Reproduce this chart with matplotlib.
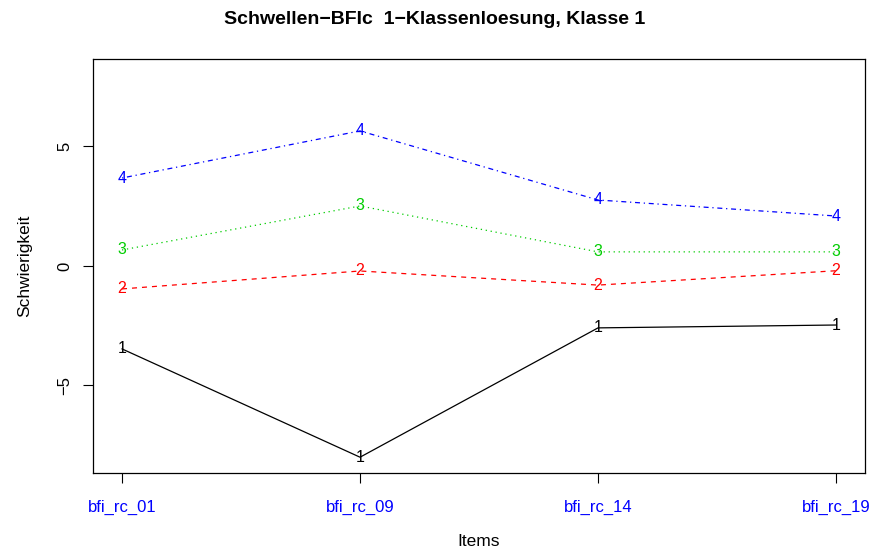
import matplotlib
matplotlib.use("Agg")
import matplotlib.pyplot as plt
import numpy as np

plt.rcParams['font.family'] = ['Liberation Sans', 'DejaVu Sans']

# Items und Schwellenwerte (Schwierigkeiten) je Schwelle
items = ['bfi_rc_01', 'bfi_rc_09', 'bfi_rc_14', 'bfi_rc_19']
schwelle_1 = [-3.47, -8.0, -2.59, -2.47]
schwelle_2 = [-0.96, -0.21, -0.80, -0.20]
schwelle_3 = [0.67, 2.51, 0.59, 0.59]
schwelle_4 = [3.68, 5.65, 2.76, 2.09]

schwellen = [schwelle_1, schwelle_2, schwelle_3, schwelle_4]
farben = ['black', '#FF0000', '#00CD00', '#0000FF']
stile = ['-', (0, (4, 4)), (0, (1, 3)), (0, (1, 3, 4, 3))]

fig = plt.figure(figsize=(8.7, 5.51), dpi=100)
ax = fig.add_axes([0.1069, 0.1416, 0.8874, 0.7514])

x = np.arange(1, len(items) + 1)
for i, (werte, farbe, stil) in enumerate(zip(schwellen, farben, stile)):
    ax.plot(x, werte, color=farbe, linestyle=stil, linewidth=0.9)
    # Ziffern als Punktsymbole
    for xi, yi in zip(x, werte):
        ax.text(xi, yi, str(i + 1), color=farbe, fontsize=11.5,
                ha='center', va='center')

ax.set_xlim(0.878, 4.122)
ax.set_ylim(-8.66, 8.66)

ax.set_xticks(x)
ax.set_xticklabels(items, color='#0000FF', fontsize=12)
ax.set_yticks([-5, 0, 5])
ax.set_yticklabels(['\u22125', '0', '5'], rotation=90, va='center', fontsize=12)
ax.tick_params(direction='out', length=7, width=0.8, pad=12)
ax.tick_params(axis='y', pad=8)

for s in ax.spines.values():
    s.set_linewidth(0.9)

ax.set_xlabel('Items', fontsize=12.5, labelpad=14)
ax.set_ylabel('Schwierigkeit', fontsize=12.5, labelpad=18)
fig.suptitle('Schwellen\u2212BFIc  1\u2212Klassenloesung, Klasse 1',
             fontsize=14, fontweight='bold', y=0.98)

fig.savefig('out.png', dpi=100)
